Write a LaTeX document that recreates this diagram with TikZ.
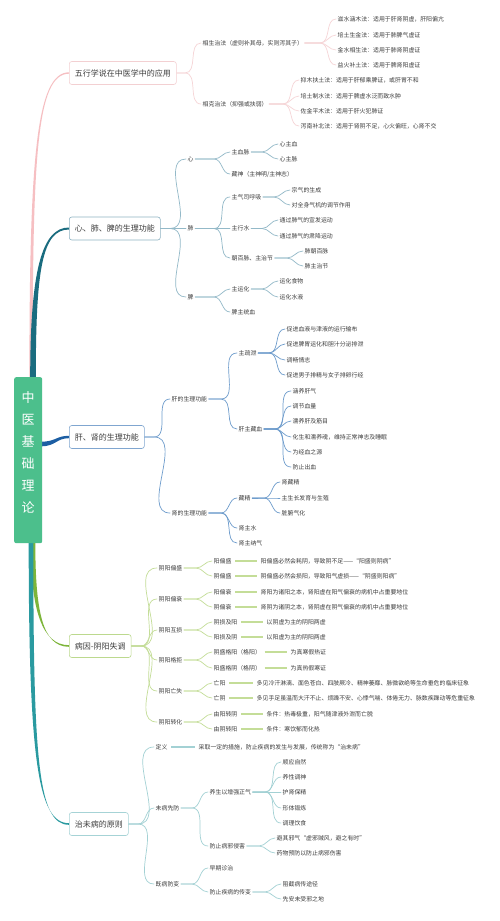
\documentclass[tikz,border=0pt]{standalone}
\usepackage{fontspec}
\setmainfont{Noto Sans CJK SC}
\usetikzlibrary{calc}
\definecolor{txt}{HTML}{3C3C3C}
\definecolor{cmain}{HTML}{4CBF8C}
\definecolor{pmain}{HTML}{F6BFC2}\definecolor{psub}{HTML}{F6D5D7}\definecolor{pbox}{HTML}{F3D0D2}
\definecolor{dmain}{HTML}{1A6C7F}\definecolor{dsub}{HTML}{93B9C8}\definecolor{dbox}{HTML}{8FB3C3}
\definecolor{bmain}{HTML}{1C5EA3}\definecolor{bsub}{HTML}{6E9CCC}\definecolor{bbox}{HTML}{80A6D0}
\definecolor{gmain}{HTML}{7DB53A}\definecolor{gsub}{HTML}{C4DD98}\definecolor{gbox}{HTML}{BCD98E}
\definecolor{tmain}{HTML}{2A9AA0}\definecolor{tsub}{HTML}{A3D1D4}\definecolor{tbox}{HTML}{A6D3D6}
\pgfdeclarelayer{bg}
\pgfsetlayers{bg,main}
\newcommand\fan[3]{\foreach \kidname in {#3}{\draw[#1] (#2.east) -- ($(#2.east -| \kidname.west)+(-16,0)$) to[out=0,in=180] (\kidname.west);}}
\newcommand\taper[7]{\fill[#1] ($(#2)-(#6)$) .. controls ($(#3)-(#6)$) and ($(#4)-(#7)$) .. ($(#5)-(#7)$) -- ($(#5)+(#7)$) .. controls ($(#4)+(#7)$) and ($(#3)+(#6)$) .. ($(#2)+(#6)$) -- cycle;}
\begin{document}
\begin{tikzpicture}[x=1pt,y=-1pt,
 box/.style={draw, rounded corners=2.5pt, fill=white, line width=0.6pt, minimum height=23pt, inner xsep=5.5pt, inner ysep=0pt, font=\fontsize{8}{9}\selectfont, text=txt, anchor=west},
 lf/.style={anchor=west, inner xsep=1.5pt, inner ysep=1pt, font=\fontsize{5.9}{7}\selectfont, text=txt},
 ln/.style={line width=0.7pt, line cap=round},
 pl/.style={ln, draw=psub}, dl/.style={ln, draw=dsub}, bl/.style={ln, draw=bsub},
 gl/.style={ln, draw=gsub}, tl/.style={ln, draw=tsub},
 gd/.style={line width=1.1pt, draw=gsub, shorten <=2pt, shorten >=2pt},
 td/.style={line width=1.1pt, draw=tsub, shorten <=2pt, shorten >=2pt}]
\begin{pgfonlayer}{bg}
\fill[white] (0,0) rectangle (500,921);
\end{pgfonlayer}
\useasboundingbox (0,0) rectangle (500,921);

% central
\node[fill=cmain, rounded corners=2pt, minimum width=28pt, minimum height=166pt, anchor=north west, inner sep=0pt] (c) at (14,377) {};
\node[text=white, font=\fontsize{13}{22}\selectfont, align=center, inner sep=0pt] (cl) at ($(c.center)+(0,-8)$) {中\\医\\基\\础\\理\\论};
\coordinate (o1) at (31,378);
\coordinate (o2) at (33,378);
\coordinate (o3) at (41,444);
\coordinate (o4) at (33,542);
\coordinate (o5) at (31,542);

% main boxes
\node[box, draw=pbox] (b1) at (69,73) {五行学说在中医学中的应用};
\node[box, draw=dbox] (b2) at (69,228.5) {心、肺、脾的生理功能};
\node[box, draw=bbox] (b3) at (69,437) {肝、肾的生理功能};
\node[box, draw=gbox] (b4) at (69,646) {病因-阴阳失调};
\node[box, draw=tbox] (b5) at (69,824) {治未病的原则};

\begin{pgfonlayer}{bg}
\taper{pmain}{o1}{31,160}{36,73}{b1.west}{1.6,0}{0,0.7}
\taper{dmain}{o2}{33,270}{42,228.5}{b2.west}{2.8,0}{0,1.0}
\taper{bmain}{o3}{56,444}{56,437}{b3.west}{0,2.3}{0,1.2}
\taper{gmain}{o4}{33,610}{42,646}{b4.west}{2.3,0}{0,0.8}
\taper{tmain}{o5}{31,760}{38,824}{b5.west}{2.3,0}{0,0.8}
\end{pgfonlayer}

% ---------- branch 1
\node[lf] (s1) at (201,43) {相生治法（虚则补其母，实则泻其子）};
\node[lf] (s2) at (201,104) {相克治法（抑强或扶弱）};
\node[lf] (a1) at (336,19) {滋水涵木法：适用于肝肾阴虚，肝阳偏亢};
\node[lf] (a2) at (336,35) {培土生金法：适用于肺脾气虚证};
\node[lf] (a3) at (336,50) {金水相生法：适用于肺肾阴虚证};
\node[lf] (a4) at (336,65) {益火补土法：适用于脾肾阳虚证};
\node[lf] (a5) at (299,80) {抑木扶土法：适用于肝郁乘脾证，或肝胃不和};
\node[lf] (a6) at (299,96) {培土制水法：适用于脾虚水泛而致水肿};
\node[lf] (a7) at (299,111) {佐金平木法：适用于肝火犯肺证};
\node[lf] (a8) at (299,126) {泻南补北法：适用于肾阴不足，心火偏旺，心肾不交};
\fan{pl}{b1}{s1,s2}
\fan{pl}{s1}{a1,a2,a3,a4}
\fan{pl}{s2}{a5,a6,a7,a8}

% ---------- branch 2
\node[lf] (h1) at (186,159) {心};
\node[lf] (h2) at (186,228.5) {肺};
\node[lf] (h3) at (186,297) {脾};
\node[lf] (x1) at (230,152) {主血脉};
\node[lf] (x2) at (230,174) {藏神（主神明/主神志）};
\node[lf] (x3) at (230,197) {主气司呼吸};
\node[lf] (x4) at (230,228.5) {主行水};
\node[lf] (x5) at (230,258) {朝百脉、主治节};
\node[lf] (x6) at (230,289) {主运化};
\node[lf] (x7) at (230,312) {脾主统血};
\node[lf] (y1) at (278,144) {心主血};
\node[lf] (y2) at (278,159) {心主脉};
\node[lf] (y3) at (290,190) {宗气的生成};
\node[lf] (y4) at (290,205) {对全身气机的调节作用};
\node[lf] (y5) at (278,220) {通过肺气的宣发运动};
\node[lf] (y6) at (278,236) {通过肺气的肃降运动};
\node[lf] (y7) at (303,251) {肺朝百脉};
\node[lf] (y8) at (303,266) {肺主治节};
\node[lf] (y9) at (278,281) {运化食物};
\node[lf] (y10) at (278,297) {运化水液};
\fan{dl}{b2}{h1,h2,h3}
\fan{dl}{h1}{x1,x2}
\fan{dl}{h2}{x3,x4,x5}
\fan{dl}{h3}{x6,x7}
\fan{dl}{x1}{y1,y2}
\fan{dl}{x3}{y3,y4}
\fan{dl}{x4}{y5,y6}
\fan{dl}{x5}{y7,y8}
\fan{dl}{x6}{y9,y10}

% ---------- branch 3
\node[lf] (g1) at (170,399) {肝的生理功能};
\node[lf] (g2) at (170,513) {肾的生理功能};
\node[lf] (m1) at (237,353) {主疏泄};
\node[lf] (m2) at (237,429) {肝主藏血};
\node[lf] (m3) at (237,498) {藏精};
\node[lf] (m4) at (237,528) {肾主水};
\node[lf] (m5) at (237,543) {肾主纳气};
\node[lf] (n1) at (285,329) {促进血液与津液的运行输布};
\node[lf] (n2) at (285,344) {促进脾胃运化和胆汁分泌排泄};
\node[lf] (n3) at (285,360) {调畅情志};
\node[lf] (n4) at (285,375) {促进男子排精与女子排卵行经};
\node[lf] (n5) at (291,391) {涵养肝气};
\node[lf] (n6) at (291,406) {调节血量};
\node[lf] (n7) at (291,421) {濡养肝及筋目};
\node[lf] (n8) at (291,437) {化生和濡养魂，维持正常神志及睡眠};
\node[lf] (n9) at (291,452) {为经血之源};
\node[lf] (n10) at (291,467) {防止出血};
\node[lf] (n11) at (280,482) {肾藏精};
\node[lf] (n12) at (280,498) {主生长发育与生殖};
\node[lf] (n13) at (280,513) {脏腑气化};
\fan{bl}{b3}{g1,g2}
\fan{bl}{g1}{m1,m2}
\fan{bl}{g2}{m3,m4,m5}
\fan{bl}{m1}{n1,n2,n3,n4}
\fan{bl}{m2}{n5,n6,n7,n8,n9,n10}
\fan{bl}{m3}{n11,n12,n13}

% ---------- branch 4
\node[lf] (e1) at (157,568) {阴阳偏盛};
\node[lf] (e2) at (157,599) {阴阳偏衰};
\node[lf] (e3) at (157,630) {阴阳互损};
\node[lf] (e4) at (157,660) {阴阳格拒};
\node[lf] (e5) at (157,691) {阴阳亡失};
\node[lf] (e6) at (157,722) {阴阳转化};
\node[lf] (k1) at (212,561) {阳偏盛};
\node[lf] (k2) at (212,576) {阴偏盛};
\node[lf] (k3) at (212,592) {阳偏衰};
\node[lf] (k4) at (212,607) {阴偏衰};
\node[lf] (k5) at (212,622) {阴损及阳};
\node[lf] (k6) at (212,637) {阳损及阴};
\node[lf] (k7) at (212,652) {阴盛格阳（格阳）};
\node[lf] (k8) at (212,668) {阳盛格阴（格阴）};
\node[lf] (k9) at (212,683) {亡阳};
\node[lf] (k10) at (212,698) {亡阴};
\node[lf] (k11) at (212,714) {由阳转阴};
\node[lf] (k12) at (212,729) {由阴转阳};
\node[lf] (d1) at (259,561) {阳偏盛必然会耗阴，导致阴不足——“阳盛则阴病”};
\node[lf] (d2) at (259,576) {阴偏盛必然会损阳，导致阳气虚损——“阴盛则阳病”};
\node[lf] (d3) at (259,592) {肾阳为诸阳之本，肾阳虚在阳气偏衰的病机中占重要地位};
\node[lf] (d4) at (259,607) {肾阴为诸阴之本，肾阴虚在阴气偏衰的病机中占重要地位};
\node[lf] (d5) at (265,622) {以阴虚为主的阴阳两虚};
\node[lf] (d6) at (265,637) {以阳虚为主的阴阳两虚};
\node[lf] (d7) at (289,652) {为真寒假热证};
\node[lf] (d8) at (289,668) {为真热假寒证};
\node[lf] (d9) at (255,683) {多见冷汗淋漓、面色苍白、四肢厥冷、精神萎靡、脉微欲绝等生命垂危的临床征象};
\node[lf] (d10) at (255,698) {多见手足虽温而大汗不止、烦躁不安、心悸气喘、体倦无力、脉数疾躁动等危重征象};
\node[lf] (d11) at (265,714) {条件：热毒极重，阳气随津液外泄而亡脱};
\node[lf] (d12) at (265,729) {条件：寒饮郁而化热};
\fan{gl}{b4}{e1,e2,e3,e4,e5,e6}
\fan{gl}{e1}{k1,k2}
\fan{gl}{e2}{k3,k4}
\fan{gl}{e3}{k5,k6}
\fan{gl}{e4}{k7,k8}
\fan{gl}{e5}{k9,k10}
\fan{gl}{e6}{k11,k12}
\foreach \i in {1,...,12}{\draw[gd] (k\i) -- (d\i);}

% ---------- branch 5
\node[lf] (f1) at (154,747) {定义};
\node[lf] (f2) at (154,808) {未病先防};
\node[lf] (f3) at (154,884) {既病防变};
\node[lf] (fd) at (197,747) {采取一定的措施，防止疾病的发生与发展，传统称为“治未病”};
\node[lf] (p1) at (208,792) {养生以增强正气};
\node[lf] (p2) at (208,846) {防止病邪侵害};
\node[lf] (p3) at (208,868) {早期诊治};
\node[lf] (p4) at (208,892) {防止疾病的传变};
\node[lf] (q1) at (281,762) {顺应自然};
\node[lf] (q2) at (281,777) {养性调神};
\node[lf] (q3) at (281,792) {护肾保精};
\node[lf] (q4) at (281,808) {形体锻炼};
\node[lf] (q5) at (281,823) {调理饮食};
\node[lf] (q6) at (275,838) {避其邪气“虚邪贼风，避之有时”};
\node[lf] (q7) at (275,853) {药物预防以防止病邪伤害};
\node[lf] (q8) at (281,884) {阻截病传途径};
\node[lf] (q9) at (281,899) {先安未受邪之地};
\fan{tl}{b5}{f1,f2,f3}
\draw[td] (f1) -- (fd);
\fan{tl}{f2}{p1,p2}
\fan{tl}{f3}{p3,p4}
\fan{tl}{p1}{q1,q2,q3,q4,q5}
\fan{tl}{p2}{q6,q7}
\fan{tl}{p4}{q8,q9}
\end{tikzpicture}
\end{document}
